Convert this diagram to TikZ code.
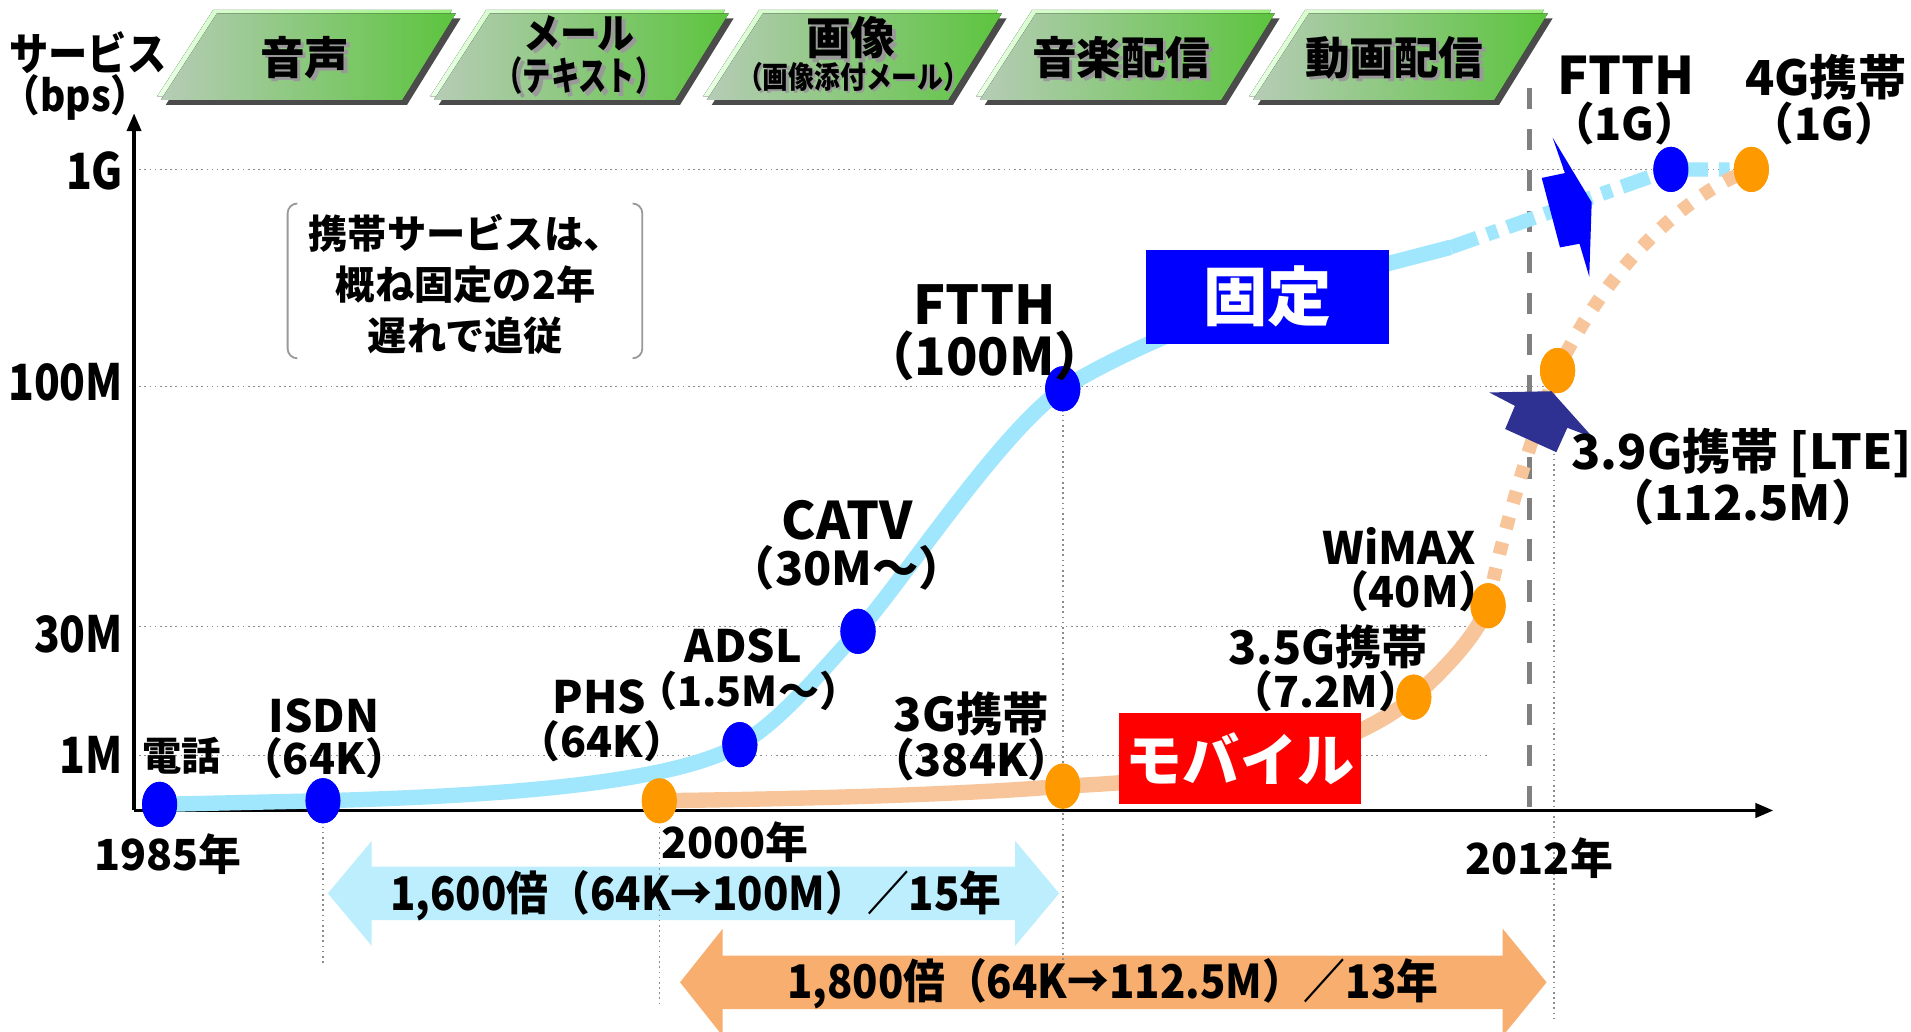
\documentclass[tikz,border=0pt]{standalone}
\usepackage{fontspec}
\setmainfont{Noto Sans CJK JP}
\usetikzlibrary{arrows.meta,shapes.geometric}
\definecolor{lblue}{RGB}{160,230,252}
\definecolor{lorange}{RGB}{248,196,153}
\definecolor{dotblue}{RGB}{0,0,255}
\definecolor{dotorange}{RGB}{255,153,0}
\definecolor{arrblue}{RGB}{189,238,253}
\definecolor{arrorange}{RGB}{247,174,110}
\definecolor{navy}{RGB}{46,49,146}
\definecolor{banL}{RGB}{182,204,182}
\definecolor{banR}{RGB}{92,196,62}
\definecolor{banHL}{RGB}{232,255,228}
\definecolor{banHR}{RGB}{150,240,120}
\definecolor{banS}{RGB}{75,75,75}
\definecolor{gridc}{RGB}{140,140,140}
\definecolor{redbox}{RGB}{255,0,0}
\newcommand\fsz[1]{\fontsize{#1pt}{#1pt}\selectfont\bfseries}
\tikzset{
  lbl/.style={inner sep=0pt, outer sep=0pt, align=center, text=black},
  bdot/.style={ellipse, fill=dotblue, minimum width=3.46mm, minimum height=4.44mm, inner sep=0pt},
  odot/.style={ellipse, fill=dotorange, minimum width=3.46mm, minimum height=4.44mm, inner sep=0pt},
  gridline/.style={gridc, line width=0.45pt, densely dotted},
  axisline/.style={black, line width=0.9pt},
  fixline/.style={lblue, line width=4.3pt},
  mobline/.style={lorange, line width=4.3pt},
  fixdash/.style={lblue, line width=4.0pt, dash pattern=on 8pt off 3pt on 3pt off 3pt},
  mobdash/.style={lorange, line width=3.8pt, dash pattern=on 3.4pt off 4pt},
  bannerfill/.style={left color=banL, right color=banR},
  bantext/.style={lbl, font=\fsz{12.5}},
  banshadow/.style={lbl, font=\fsz{12.5}, text=black!40},
  tagbox/.style={inner sep=0pt, text=white},
  bracketline/.style={black!40, line width=0.5pt, rounded corners=2.7pt},
  ratiotext/.style={lbl, font=\fsz{13}, xscale=0.9},
}
\newcommand\bannershape[1]{%
 \begin{scope}[shift={(#1,0)}]
  \fill[banS] (182,15) -- (378,15) -- (334,86) -- (136,86) -- cycle;
  \fill[left color=banHL, right color=banHR] (175,8) -- (371,8) -- (327,79) -- (129,79) -- cycle;
  \fill[bannerfill] (178,11) -- (374,11) -- (330,82) -- (132,82) -- cycle;
 \end{scope}}
\begin{document}
\begin{tikzpicture}[x=0.12mm,y=-0.12mm]
\fill[white] (0,0) rectangle (1568,846);
\useasboundingbox (0,0) rectangle (1568,846);

% ---------- banners ----------
\bannershape{0}
\bannershape{224}
\bannershape{448}
\bannershape{672}
\bannershape{896}
\node[banshadow] (b1s) at (253,50) {音声};
\node[bantext] (b1) at (250,47) {音声};
\node[banshadow, font=\fsz{11.5}, xscale=0.9] (b2as) at (478,30) {メール};
\node[bantext, font=\fsz{11.5}, xscale=0.9] (b2a) at (475,27) {メール};
\node[banshadow, font=\fsz{11}, xscale=0.72] (b2bs) at (478,65) {（テキスト）};
\node[bantext, font=\fsz{11}, xscale=0.72] (b2b) at (475,62) {（テキスト）};
\node[banshadow] (b3as) at (701,34) {画像};
\node[bantext] (b3a) at (698,31) {画像};
\node[banshadow, font=\fsz{8.5}, xscale=0.85] (b3bs) at (702,65) {（画像添付メール）};
\node[bantext, font=\fsz{8.5}, xscale=0.85] (b3b) at (700,63) {（画像添付メール）};
\node[banshadow] (b4s) at (923,50) {音楽配信};
\node[bantext] (b4) at (920,47) {音楽配信};
\node[banshadow] (b5s) at (1147,50) {動画配信};
\node[bantext] (b5) at (1144,47) {動画配信};

% ---------- axis title ----------
\node[lbl, font=\fsz{12.5}, xscale=0.88] (svc) at (72,43) {サービス};
\node[lbl, font=\fsz{12}, xscale=0.9] (bps) at (62,80) {（bps）};

% ---------- grid ----------
\draw[gridline] (110,139) -- (1437,139);
\draw[gridline] (110,317) -- (1275,317);
\draw[gridline] (110,514) -- (1221,514);
\draw[gridline] (110,620) -- (1221,620);

% ---------- bottom arrows ----------
\fill[arrblue] (269,733) -- (305,690) -- (305,711) -- (833,711) -- (833,690) -- (869,733)
  -- (833,776) -- (833,755) -- (305,755) -- (305,776) -- cycle;
\fill[arrorange] (558,806) -- (593,762) -- (593,784) -- (1233,784) -- (1233,762) -- (1269,806)
  -- (1233,850) -- (1233,828) -- (593,828) -- (593,850) -- cycle;

% vertical dotted guides
\draw[gridline] (265,657) -- (265,792);
\draw[gridline] (541,657) -- (541,826);
\draw[gridline] (872,319) -- (872,795);
\draw[gridline] (1275,317) -- (1275,838);

% 2012 dashed line
\draw[black!50, line width=1.3pt, dash pattern=on 6pt off 5.5pt] (1255,72) -- (1255,665);

% ---------- axes ----------
\draw[axisline, -{Triangle[length=5pt,width=4pt]}] (110,665) -- (110,93);
\draw[axisline, -{Triangle[length=5pt,width=4pt]}] (110,665) -- (1455,665);

% ---------- dots (nodes) ----------
\node[bdot] (tel) at (131,660) {};
\node[bdot] (isdn) at (265,657) {};
\node[bdot] (adsl) at (607,611) {};
\node[bdot] (catv) at (704,518) {};
\node[bdot] (ftth) at (872,319) {};
\node[bdot] (ftthG) at (1371,139) {};
\node[odot] (phs) at (541,657) {};
\node[odot] (g3) at (872,645) {};
\node[odot] (g35) at (1160,572) {};
\node[odot] (wimax) at (1221,497) {};
\node[odot] (g39) at (1278,304) {};
\node[odot] (g4) at (1437,139) {};
\coordinate (fixend) at (1190,203);

% ---------- curves ----------
\draw[fixline] (tel.center) -- (isdn.center) .. controls (450,652) and (560,638) .. (adsl.center)
  .. controls (640,592) and (670,555) .. (catv.center)
  .. controls (740,478) and (820,355) .. (ftth.center)
  .. controls (930,282) and (1050,235) .. (1140,216) -- (fixend);
\draw[fixdash] (fixend) -- (ftthG.center) -- (g4.center);
\draw[mobline] (phs.center) .. controls (700,655) and (820,650) .. (g3.center)
  .. controls (990,640) and (1100,622) .. (g35.center)
  .. controls (1190,545) and (1212,520) .. (wimax.center);
\draw[mobdash] (wimax.center) .. controls (1228,455) and (1258,350) .. (g39.center)
  .. controls (1315,225) and (1380,160) .. (g4.center);

% redraw dots on top of curves
\foreach \n in {tel,isdn,adsl,catv,ftth,ftthG}{\fill[dotblue] (\n.center) ellipse [x radius=14.4, y radius=18.5];}
\foreach \n in {phs,g3,g35,wimax,g39,g4}{\fill[dotorange] (\n.center) ellipse [x radius=14.4, y radius=18.5];}

% ---------- tag boxes ----------
\node[tagbox, fill=dotblue, minimum width=24mm, minimum height=9.24mm, font=\fsz{18}] (kotei) at (1040,243.5) {固定};
\node[tagbox, fill=redbox, minimum width=23.88mm, minimum height=9mm, font=\fsz{16}] (mobile) at (1017.5,622.5) {モバイル};

% ---------- lightning arrows ----------
\fill[dotblue] (1274,113) -- (1306,166) -- (1304,227) -- (1296,200) -- (1280,203) -- (1265,146) -- (1284,142) -- cycle;
\fill[navy] (1222,322) -- (1273,321) -- (1307,359) -- (1286,351) -- (1277,371) -- (1235,352) -- (1243,333) -- cycle;

% ---------- callout ----------
\draw[bracketline] (244,167) -- (236,167) -- (236,294) -- (244,294);
\draw[bracketline] (519,167) -- (527,167) -- (527,294) -- (519,294);
\node[lbl, font={\fontsize{11pt}{14.3pt}\selectfont\bfseries}] (note) at (382,233)
  {携帯サービスは、\\概ね固定の2年\\遅れで追従};

% ---------- axis labels ----------
\node[lbl, anchor=east, font=\fsz{14}, xscale=0.85] (y1g) at (101,140) {1G};
\node[lbl, anchor=east, font=\fsz{14}, xscale=0.85] (y100m) at (101,314) {100M};
\node[lbl, anchor=east, font=\fsz{14}, xscale=0.85] (y30m) at (101,520) {30M};
\node[lbl, anchor=east, font=\fsz{14}, xscale=0.85] (y1m) at (101,619) {1M};

% ---------- point labels ----------
\node[lbl, font=\fsz{11}] (ltel) at (149,620) {電話};
\node[lbl, font=\fsz{12.5}] (lisdn) at (266,587) {ISDN};
\node[lbl, font=\fsz{12}] (lisdnv) at (266,622) {（64K）};
\node[lbl, font=\fsz{12.5}] (lphs) at (492,572) {PHS};
\node[lbl, font=\fsz{12}] (lphsv) at (494,608) {（64K）};
\node[lbl, font=\fsz{12.5}] (ladsl) at (610,530) {ADSL};
\node[lbl, font=\fsz{11.5}] (ladslv) at (614,567) {（1.5M～）};
\node[lbl, font=\fsz{14.5}] (lcatv) at (695,427) {CATV};
\node[lbl, font=\fsz{13}] (lcatvv) at (695,466) {（30M～）};
\node[lbl, font=\fsz{15}] (lftth) at (808,250) {FTTH};
\node[lbl, font=\fsz{14.5}] (lftthv) at (808,292) {（100M）};
\node[lbl, font=\fsz{13}] (lg3) at (797,586) {3G携帯};
\node[lbl, font=\fsz{12.5}] (lg3v) at (797,623) {（384K）};
\node[lbl, font=\fsz{13}] (lg35) at (1090,531) {3.5G携帯};
\node[lbl, font=\fsz{12}] (lg35v) at (1088,567) {（7.2M）};
\node[lbl, font=\fsz{12.5}] (lwimax) at (1148,448) {WiMAX};
\node[lbl, font=\fsz{12}] (lwimaxv) at (1160,485) {（40M）};
\node[lbl, font=\fsz{13.5}] (lg39) at (1429,372) {3.9G携帯 [LTE]};
\node[lbl, font=\fsz{13.5}] (lg39v) at (1430,412) {（112.5M）};
\node[lbl, font=\fsz{14.5}] (lftthg) at (1334,62) {FTTH};
\node[lbl, font=\fsz{12.5}] (lftthgv) at (1333,101) {（1G）};
\node[lbl, font=\fsz{13.5}] (lg4) at (1498,63) {4G携帯};
\node[lbl, font=\fsz{12.5}] (lg4v) at (1497,101) {（1G）};

% ---------- years ----------
\node[lbl, font=\fsz{12}] (y1985) at (138,701) {1985年};
\node[lbl, font=\fsz{12}] (y2000) at (603,691) {2000年};
\node[lbl, font=\fsz{12}] (y2012) at (1263,704) {2012年};

% ---------- ratio texts ----------
\node[ratiotext] (ratio1) at (571,735) {1,600倍（64K→100M）／15年};
\node[ratiotext] (ratio2) at (913,807) {1,800倍（64K→112.5M）／13年};
\end{tikzpicture}
\end{document}
